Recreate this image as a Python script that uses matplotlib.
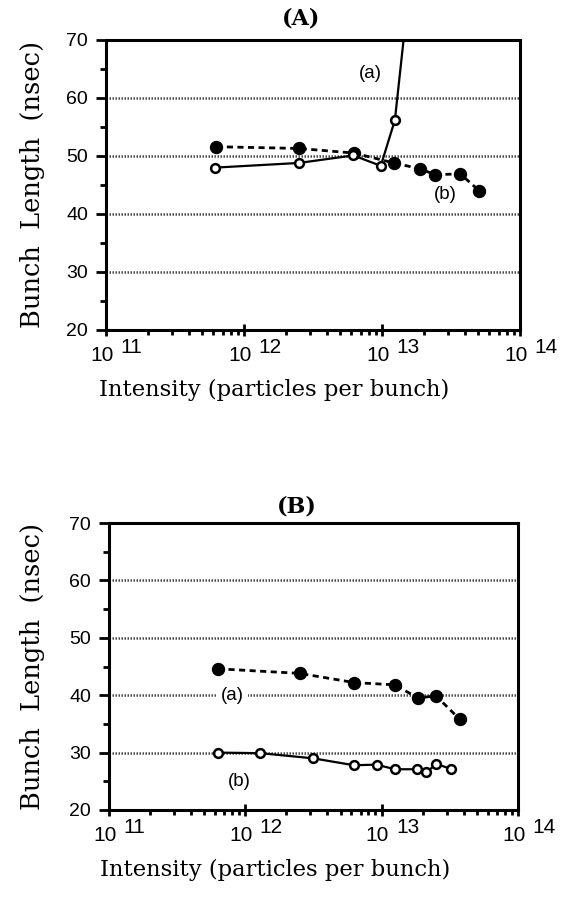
import matplotlib
matplotlib.use("Agg")
import matplotlib.pyplot as plt
from matplotlib.ticker import LogLocator, NullFormatter, FixedLocator

# ---------------- data ----------------
# Panel A
A_open_x = [6.2e11, 2.5e12, 6.2e12, 9.8e12, 1.24e13]
A_open_y = [48.0, 48.8, 50.1, 48.3, 56.2]
A_open_ext_x = [1.24e13, 1.51e13]   # line continues off the top of the plot
A_open_ext_y = [56.2, 75.0]
A_fill_x = [6.3e11, 2.5e12, 6.3e12, 1.22e13, 1.88e13, 2.42e13, 3.7e13, 5.07e13]
A_fill_y = [51.6, 51.3, 50.5, 48.8, 47.8, 46.8, 46.9, 44.0]

# Panel B
B_fill_x = [6.3e11, 2.5e12, 6.3e12, 1.25e13, 1.85e13, 2.5e13, 3.74e13]
B_fill_y = [44.6, 43.8, 42.2, 41.8, 39.5, 39.9, 35.8]
B_open_x = [6.3e11, 1.29e12, 3.15e12, 6.25e12, 9.2e12, 1.25e13, 1.83e13, 2.13e13, 2.52e13, 3.2e13]
B_open_y = [30.0, 29.9, 29.0, 27.8, 27.9, 27.1, 27.1, 26.6, 28.0, 27.2]

y_ticks = [20, 30, 40, 50, 60, 70]
grid_levels = [30, 40, 50, 60]
decade_exps = [11, 12, 13, 14]
panel_titles = ["(A)", "(B)"]
x_label = "Intensity (particles per bunch)"
y_label = "Bunch  Length  (nsec)"

SERIF = "DejaVu Serif"
SANS = "Liberation Sans"

fig = plt.figure(figsize=(5.61, 8.97), dpi=100)
W, H = 561, 897

def px_axes(left, top, right, bottom):
    return fig.add_axes([left / W, 1 - bottom / H, (right - left) / W, (bottom - top) / H])

axA = px_axes(106, 40, 520, 330)
axB = px_axes(109, 523, 518, 810)

def style(ax):
    ax.set_xscale("log")
    ax.set_xlim(1e11, 1e14)
    ax.set_ylim(20, 70)
    for lev in grid_levels:
        ax.axhline(lev, color="#4a4a4a", lw=1.8, ls=(0, (0.6, 0.6)), zorder=1)
    for s in ax.spines.values():
        s.set_linewidth(2.2)
    ax.yaxis.set_major_locator(FixedLocator(y_ticks))
    ax.yaxis.set_minor_locator(FixedLocator([25, 35, 45, 55, 65]))
    ax.tick_params(axis="y", which="major", direction="out", length=7, width=2,
                   labelsize=14, pad=6)
    ax.tick_params(axis="y", which="minor", direction="out", length=4.3, width=2)
    for lab in ax.get_yticklabels():
        lab.set_fontfamily(SANS)
    ax.xaxis.set_major_locator(FixedLocator([10.0 ** e for e in decade_exps]))
    ax.xaxis.set_minor_locator(LogLocator(base=10, subs=range(2, 10)))
    ax.xaxis.set_minor_formatter(NullFormatter())
    ax.set_xticklabels([""] * len(decade_exps))
    ax.tick_params(axis="x", which="major", direction="inout", length=8, width=2)
    ax.tick_params(axis="x", which="minor", direction="out", length=3.5, width=2)
    for e in decade_exps:
        ax.annotate("10", xy=(10.0 ** e, 0), xycoords=("data", "axes fraction"),
                    xytext=(5.4, -18.7), textcoords="offset points",
                    ha="right", va="center", fontsize=15, family=SANS,
                    annotation_clip=False)
        ax.annotate(str(e), xy=(10.0 ** e, 0), xycoords=("data", "axes fraction"),
                    xytext=(10.4, -12.6), textcoords="offset points",
                    ha="left", va="center", fontsize=15, family=SANS,
                    annotation_clip=False)
    ax.annotate(x_label, xy=(0.405, 0), xycoords="axes fraction",
                xytext=(0, -43), textcoords="offset points",
                ha="center", va="center", fontsize=16.3, family=SERIF,
                annotation_clip=False)

style(axA)
style(axB)

# Panel A series
axA.plot(A_fill_x, A_fill_y, color="black", lw=2, ls=(0, (2.2, 1.6)),
         marker="o", ms=8.6, mfc="black", mec="black", zorder=3)
axA.plot(A_open_ext_x, A_open_ext_y, color="black", lw=1.6, zorder=4)
axA.plot(A_open_x, A_open_y, color="black", lw=1.6, marker="o", ms=6.3,
         mfc="white", mec="black", mew=1.8, zorder=5)
axA.text(8.2e12, 64.3, "(a)", fontsize=13.5, family=SANS, ha="center", va="center")
axA.text(2.86e13, 43.4, "(b)", fontsize=13.5, family=SANS, ha="center", va="center")

# Panel B series
axB.plot(B_fill_x, B_fill_y, color="black", lw=2, ls=(0, (2.2, 1.6)),
         marker="o", ms=8.6, mfc="black", mec="black", zorder=3)
axB.plot(B_open_x, B_open_y, color="black", lw=1.6, marker="o", ms=6.3,
         mfc="white", mec="black", mew=1.8, zorder=5)
axB.text(8.1e11, 40.0, "(a)", fontsize=13.5, family=SANS, ha="center", va="center",
         bbox=dict(facecolor="white", edgecolor="none", pad=3), zorder=4)
axB.text(9.1e11, 25.0, "(b)", fontsize=13.5, family=SANS, ha="center", va="center")

# titles and y labels
fig.text(301 / W, 1 - 19 / H, panel_titles[0], fontsize=16, family=SERIF,
         weight="bold", ha="center", va="center")
fig.text(297 / W, 1 - 506 / H, panel_titles[1], fontsize=16, family=SERIF,
         weight="bold", ha="center", va="center")
fig.text(33 / W, 1 - 184 / H, y_label, rotation=90, fontsize=18.5, family=SERIF,
         ha="center", va="center")
fig.text(33 / W, 1 - 666 / H, y_label, rotation=90, fontsize=18.5, family=SERIF,
         ha="center", va="center")

fig.savefig("out.png", dpi=100)
